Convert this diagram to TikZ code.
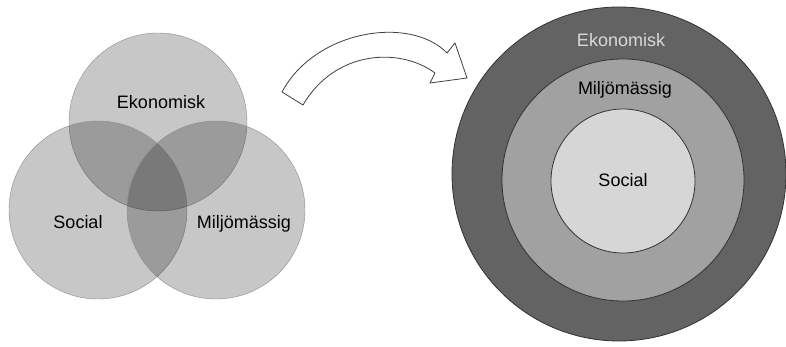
\documentclass[tikz,border=0pt]{standalone}
\usepackage{fontspec}
\setmainfont{Liberation Sans}
\begin{document}
\begin{tikzpicture}[x=1pt, y=-1pt]
    % styles
    \tikzstyle{venn} = [circle, draw=black!45, fill=black, fill opacity=0.22, minimum size=178pt, inner sep=0pt]
    \tikzstyle{ring} = [circle, draw=black!80, thick, inner sep=0pt]
    \tikzstyle{lbl} = [anchor=base, inner sep=0pt, font=\fontsize{18}{20}\selectfont]
    \tikzstyle{blockarrow} = [draw=black!75, thick, fill=white, line join=round]

    \useasboundingbox (0,0) rectangle (786,347);

    % ================= Venn =================
    \foreach \n/\x/\y in {eko/158/122, soc/98/210, milj/216/210} {
        \node[venn] (\n) at (\x,\y) {};
    }
    \node[lbl] (ekoL) at (161,109) {Ekonomisk};
    \node[lbl] (socL) at (78,229) {Social};
    \node[lbl] (miljL) at (244,229) {Miljömässig};

    % ================= pil =================
    \draw[blockarrow] (282,92) .. controls (315,30) and (410,15) .. (447,53)
        -- (455,43) -- (467,78) -- (430,83) -- (435,73)
        .. controls (400,47) and (335,50) .. (303,105) -- cycle;

    % ================= ringar =================
    \node[ring, fill=black!61, minimum size=334pt] (yttre) at (619,174) {};
    \node[ring, fill=black!37, minimum size=242pt] (mitten) at (623,180) {};
    \node[ring, fill=black!16, minimum size=144pt] (inre) at (623,181) {};
    \node[lbl, text=black!15] (ekoR) at (621,47) {Ekonomisk};
    \node[lbl] (miljR) at (625,95) {Miljömässig};
    \node[lbl] (socR) at (623,187) {Social};
\end{tikzpicture}
\end{document}
